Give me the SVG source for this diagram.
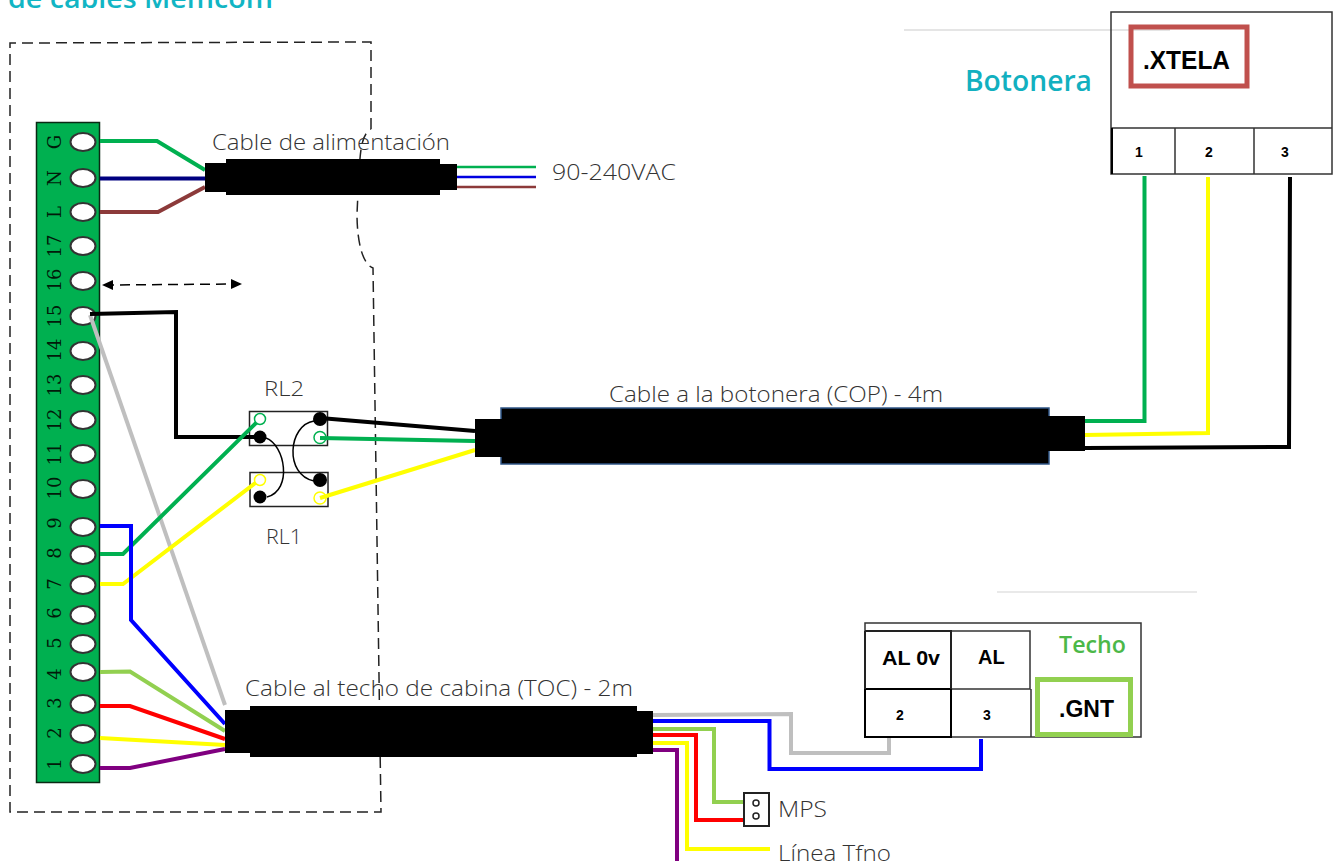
<svg xmlns="http://www.w3.org/2000/svg" width="1338" height="861" viewBox="0 0 1338 861">
<defs>
<marker id="ah" markerWidth="12" markerHeight="12" refX="9" refY="5" orient="auto-start-reverse" markerUnits="userSpaceOnUse"><path d="M0 0L11 5L0 10Z" fill="#000"/></marker>
</defs>
<style>
text{font-family:"Open Sans","Noto Sans","Liberation Sans",sans-serif;fill:#333}
.lb{font-size:22px;font-weight:300}
.tm{font-family:"DejaVu Serif","Liberation Serif",serif;font-size:18px;fill:#021a0a;text-anchor:middle}
.b{font-family:"Liberation Sans",Arial,sans-serif;font-weight:700;fill:#000}
.w{fill:none;stroke-width:4}
.hole{fill:#fff;stroke:#333;stroke-width:2}
.k{fill:#000}
.box{fill:#fff;stroke:#222;stroke-width:2}
.dash{fill:none;stroke:#222;stroke-width:1.500;stroke-dasharray:11 6}
</style>
<rect width="1338" height="861" fill="#fff"/>
<text x="8" y="8" font-size="27" font-weight="600" textLength="265" lengthAdjust="spacingAndGlyphs" style="fill:#12b5c4" id="title">de cables Memcom</text>
<path d="M904 30H1170" stroke="#ccc" stroke-width="1.200" fill="none" id="rule1"/>
<path d="M997 592H1197" stroke="#d4d4d4" stroke-width="1.200" fill="none" id="rule2"/>
<path class="dash" id="enclosure" d="M371 129V42L10 43V812H381L373 268C362 264 357 240 357 214L359 170C361 145 362 135 371 129"/>

<g id="terminal-block">
<rect x="36.500" y="122.500" width="63" height="660" fill="#00b050" stroke="#0a2a14" stroke-width="1.500"/>
<g id="terminal-holes">
<ellipse class="hole" cx="83" cy="142" rx="12.500" ry="9"/><ellipse class="hole" cx="83" cy="178" rx="12.500" ry="9"/><ellipse class="hole" cx="83" cy="212" rx="12.500" ry="9"/><ellipse class="hole" cx="83" cy="246" rx="12.500" ry="9"/><ellipse class="hole" cx="83" cy="281" rx="12.500" ry="9"/><ellipse class="hole" cx="83" cy="316" rx="12.500" ry="9"/><ellipse class="hole" cx="83" cy="351" rx="12.500" ry="9"/><ellipse class="hole" cx="83" cy="385" rx="12.500" ry="9"/><ellipse class="hole" cx="83" cy="420" rx="12.500" ry="9"/><ellipse class="hole" cx="83" cy="454" rx="12.500" ry="9"/><ellipse class="hole" cx="83" cy="489" rx="12.500" ry="9"/><ellipse class="hole" cx="83" cy="527" rx="12.500" ry="9"/><ellipse class="hole" cx="83" cy="555" rx="12.500" ry="9"/><ellipse class="hole" cx="83" cy="585" rx="12.500" ry="9"/><ellipse class="hole" cx="83" cy="615" rx="12.500" ry="9"/><ellipse class="hole" cx="83" cy="644" rx="12.500" ry="9"/><ellipse class="hole" cx="83" cy="672" rx="12.500" ry="9"/><ellipse class="hole" cx="83" cy="704" rx="12.500" ry="9"/><ellipse class="hole" cx="83" cy="734" rx="12.500" ry="9"/><ellipse class="hole" cx="83" cy="764" rx="12.500" ry="9"/>
</g>
<g id="terminal-labels">
<text class="tm" transform="translate(61 142) rotate(-90)">G</text><text class="tm" transform="translate(61 178) rotate(-90)">N</text><text class="tm" transform="translate(61 212) rotate(-90)">L</text><text class="tm" transform="translate(61 246) rotate(-90)">17</text><text class="tm" transform="translate(61 280) rotate(-90)">16</text><text class="tm" transform="translate(61 316) rotate(-90)">15</text><text class="tm" transform="translate(61 350) rotate(-90)">14</text><text class="tm" transform="translate(61 385) rotate(-90)">13</text><text class="tm" transform="translate(61 420) rotate(-90)">12</text><text class="tm" transform="translate(61 454) rotate(-90)">11</text><text class="tm" transform="translate(61 488) rotate(-90)">10</text><text class="tm" transform="translate(61 523) rotate(-90)">9</text><text class="tm" transform="translate(61 553) rotate(-90)">8</text><text class="tm" transform="translate(61 584) rotate(-90)">7</text><text class="tm" transform="translate(61 613) rotate(-90)">6</text><text class="tm" transform="translate(61 643) rotate(-90)">5</text><text class="tm" transform="translate(61 674) rotate(-90)">4</text><text class="tm" transform="translate(61 703) rotate(-90)">3</text><text class="tm" transform="translate(61 733) rotate(-90)">2</text><text class="tm" transform="translate(61 764) rotate(-90)">1</text>
</g>
</g>

<g id="relay-rl2"><rect x="249.500" y="411.500" width="78" height="34" fill="#fff" stroke="#222" stroke-width="1.500"/></g>
<g id="relay-rl1"><rect x="250" y="472.500" width="78" height="34" fill="#fff" stroke="#222" stroke-width="1.500"/></g>

<g id="connectors">
<path class="w" stroke="#00b050" d="M100 141H157L205 170"/>
<path class="w" stroke="#000080" d="M100 178.500H205"/>
<path class="w" stroke="#8c3a3a" d="M100 212H158L205 187"/>
<path class="w" stroke="#00b050" d="M457 167H536" style="stroke-width:2.500"/>
<path class="w" stroke="#0000e0" d="M457 177H536" style="stroke-width:2.500"/>
<path class="w" stroke="#8c3a3a" d="M457 187H536" style="stroke-width:2.500"/>
<path fill="none" stroke="#000" stroke-width="1.500" stroke-dasharray="10 6" marker-start="url(#ah)" marker-end="url(#ah)" d="M104 285L240 284"/>
<path class="w" stroke="#bfbfbf" d="M90 315L225 705"/>
<path class="w" stroke="#000" d="M90 314L176 312V437H260"/>
<path class="w" stroke="#00b050" d="M100 554H123L258 421"/>
<path class="w" stroke="#ffff00" d="M100 584H123L258 481"/>
<path class="w" stroke="#0000ff" d="M100 526H131V620L225 724"/>
<path class="w" stroke="#92d050" d="M100 672L130 671.500L225 731"/>
<path class="w" stroke="#ff0000" d="M100 706H130L225 739"/>
<path class="w" stroke="#ffff00" d="M100 738L225 745"/>
<path class="w" stroke="#800080" d="M100 768H130L225 749"/>
<path class="w" stroke="#000" d="M320 418L475 431"/>
<path class="w" stroke="#00b050" d="M320 438L475 441"/>
<path class="w" stroke="#ffff00" d="M320 498L475 450"/>
<path fill="none" stroke="#000" stroke-width="1.500" d="M266 438C285 445 293 490 267 497M314 421C288 425 284 475 314 481"/>
<path class="w" stroke="#00b050" d="M1085 421H1144.500V176"/>
<path class="w" stroke="#ffff00" d="M1085 435L1208 433V177"/>
<path class="w" stroke="#000" d="M1085 448L1289 447L1290 177"/>
<path class="w" stroke="#bfbfbf" d="M653 715L791 714V753H889V738"/>
<path class="w" stroke="#0000ff" d="M653 721H769.500V769H981V739"/>
<path class="w" stroke="#92d050" d="M653 729H714V802H744"/>
<path class="w" stroke="#ff0000" d="M653 735H696V820H744"/>
<path class="w" stroke="#ffff00" d="M653 743H687V849H770"/>
<path class="w" stroke="#800080" d="M653 750H677V861"/>
</g>

<g id="relay-contacts">
<circle cx="260" cy="419" r="5.500" fill="#fff" stroke="#00b050" stroke-width="1.500"/><circle class="k" cx="260" cy="437" r="6.500"/><circle class="k" cx="320" cy="419" r="7"/><circle cx="320" cy="437.500" r="6" fill="none" stroke="#00b050" stroke-width="1.500"/>
<circle cx="260" cy="480" r="5.500" fill="#fff" stroke="#ffff00" stroke-width="1.500"/><circle class="k" cx="260" cy="497" r="6.500"/><circle class="k" cx="320" cy="480" r="7"/><circle cx="320" cy="498" r="6" fill="none" stroke="#ffff00" stroke-width="1.500"/>
<text class="lb" x="264" y="396" textLength="40" lengthAdjust="spacingAndGlyphs" style="font-size:21px">RL2</text><text class="lb" x="266" y="544" textLength="36" lengthAdjust="spacingAndGlyphs" style="font-size:21px">RL1</text>
</g>

<g id="cable-power">
<rect class="k" x="205" y="163" width="24" height="29"/><rect class="k" x="226" y="159" width="214" height="36"/><rect class="k" x="438" y="164" width="19" height="26"/>
<text class="lb" x="212" y="150" textLength="238" lengthAdjust="spacingAndGlyphs">Cable de alimentación</text>
<text class="lb" x="552" y="180" textLength="124" lengthAdjust="spacingAndGlyphs">90-240VAC</text>
</g>
<g id="cable-cop">
<rect x="501" y="408" width="548" height="56" fill="#000" stroke="#2f5586" stroke-width="1.500"/><rect class="k" x="475" y="419" width="28" height="38"/><rect class="k" x="1048" y="416" width="37" height="35"/>
<text class="lb" x="609" y="402" textLength="334" lengthAdjust="spacingAndGlyphs">Cable a la botonera (COP) - 4m</text>
</g>
<g id="cable-toc">
<rect class="k" x="225" y="710" width="27" height="43"/><rect class="k" x="250" y="706" width="387" height="51"/><rect class="k" x="635" y="711" width="18" height="43"/>
<text class="lb" x="245" y="696" textLength="388" lengthAdjust="spacingAndGlyphs">Cable al techo de cabina (TOC) - 2m</text>
</g>

<g id="botonera">
<text x="965" y="91" font-size="28" font-weight="600" textLength="127" lengthAdjust="spacingAndGlyphs" style="fill:#12b0c0">Botonera</text>
<rect x="1111" y="12" width="221" height="162" fill="none" stroke="#333" stroke-width="1.500"/>
<path d="M1111 128H1332M1175 128V174M1254 128V174" fill="none" stroke="#333" stroke-width="1.500"/>
<path d="M1112 128V174" stroke="#000" stroke-width="2" fill="none"/>
<rect x="1131" y="27" width="116" height="59" fill="none" stroke="#c0504d" stroke-width="5"/>
<text class="b" x="1143" y="69" font-size="25" textLength="87" lengthAdjust="spacingAndGlyphs">.XTELA</text>
<text class="b" x="1135" y="157" font-size="14">1</text><text class="b" x="1205" y="157" font-size="14">2</text><text class="b" x="1281" y="157" font-size="14">3</text>
</g>

<g id="techo">
<rect x="865" y="623" width="276" height="114" fill="none" stroke="#333" stroke-width="1.500"/>
<path d="M951 631H1030V689H951M1031 689V737" fill="none" stroke="#333" stroke-width="1.500"/>
<path d="M865 689H951V737H865Z" fill="none" stroke="#000" stroke-width="2"/>
<path d="M865 631H951V689M865 631V689" fill="none" stroke="#222" stroke-width="2"/>
<rect x="1037.500" y="679.500" width="93" height="55" fill="none" stroke="#92d050" stroke-width="5"/>
<text x="1059" y="653" font-size="23" font-weight="600" textLength="67" lengthAdjust="spacingAndGlyphs" style="fill:#4cb848">Techo</text>
<text class="b" x="882" y="665" font-size="20" textLength="58" lengthAdjust="spacingAndGlyphs">AL 0v</text><text class="b" x="978" y="664" font-size="20">AL</text>
<text class="b" x="896" y="720" font-size="14">2</text><text class="b" x="983" y="720" font-size="14">3</text>
<text class="b" x="1059" y="717" font-size="23">.GNT</text>
</g>

<g id="mps">
<rect class="box" x="744" y="793" width="25" height="33"/><circle cx="756" cy="803" r="3" fill="none" stroke="#222" stroke-width="1.500"/><circle cx="756" cy="816" r="3" fill="none" stroke="#222" stroke-width="1.500"/>
<text class="lb" x="778" y="817" textLength="49" lengthAdjust="spacingAndGlyphs">MPS</text>
</g>
<g id="linea-tfno"><text class="lb" x="778" y="861" textLength="113" lengthAdjust="spacingAndGlyphs">Línea Tfno</text></g>
</svg>
